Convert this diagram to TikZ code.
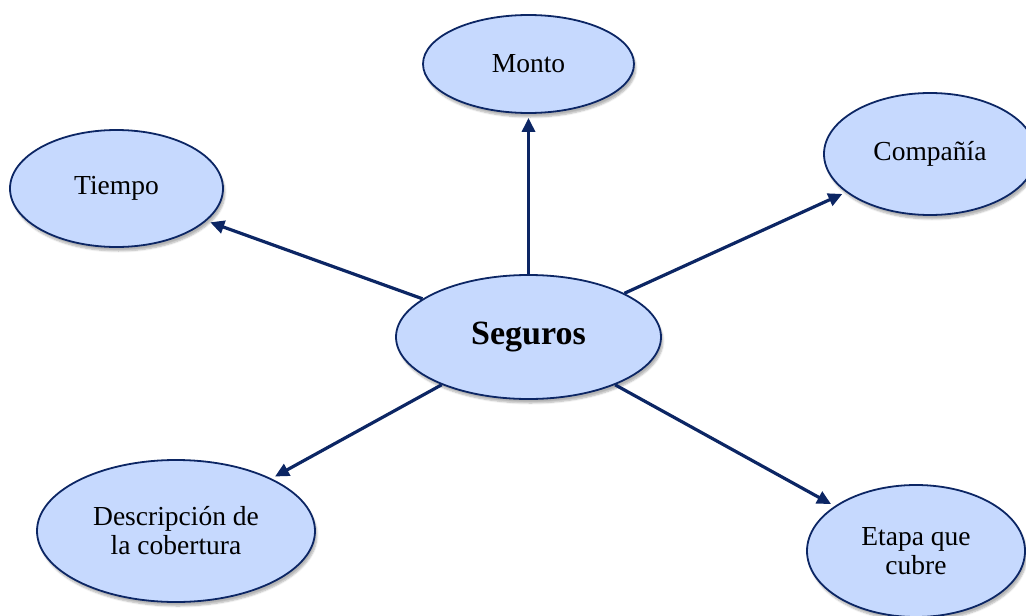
\documentclass[tikz,border=0pt]{standalone}
\usepackage{fontspec}
\setmainfont{Liberation Serif}
\usetikzlibrary{shapes.geometric,arrows.meta,shadows.blur}
\definecolor{navy}{RGB}{12,38,100}
\definecolor{bubble}{RGB}{198,217,254}
\begin{document}
\begin{tikzpicture}[x=1pt,y=-1pt,
  bub/.style={ellipse, draw=navy, line width=1.8pt, fill=bubble, inner sep=0pt,
    align=center, font=\fontsize{27.5}{29}\selectfont,
    blur shadow={shadow xshift=2pt, shadow yshift=-4pt, shadow blur steps=6, shadow opacity=30}},
  link/.style={draw=navy, line width=3.2pt, -{Triangle[length=14pt,width=13pt]}, shorten >=4pt}]
\useasboundingbox (0,0) rectangle (1026,616);
\node[bub, minimum width=211pt, minimum height=98pt] (monto) at (528.5,64) {Monto};
\node[bub, minimum width=213pt, minimum height=117pt] (tiempo) at (116.5,188.5) {Tiempo};
\node[bub, minimum width=212pt, minimum height=122pt] (comp) at (930,154) {Compañía};
\node[bub, minimum width=278pt, minimum height=142pt] (desc) at (176,531) {Descripción de\\la cobertura};
\node[bub, minimum width=218pt, minimum height=132pt] (etapa) at (916,551) {Etapa que\\cubre};
\node[bub, minimum width=265pt, minimum height=124pt, font=\fontsize{34}{38}\selectfont\bfseries] (seg) at (528.5,337) {Seguros};
\draw[link] (seg) -- (monto);
\draw[link] (seg) -- (tiempo);
\draw[link] (seg) -- (comp);
\draw[link] (seg) -- (desc);
\draw[link] (seg) -- (etapa);
\end{tikzpicture}
\end{document}
